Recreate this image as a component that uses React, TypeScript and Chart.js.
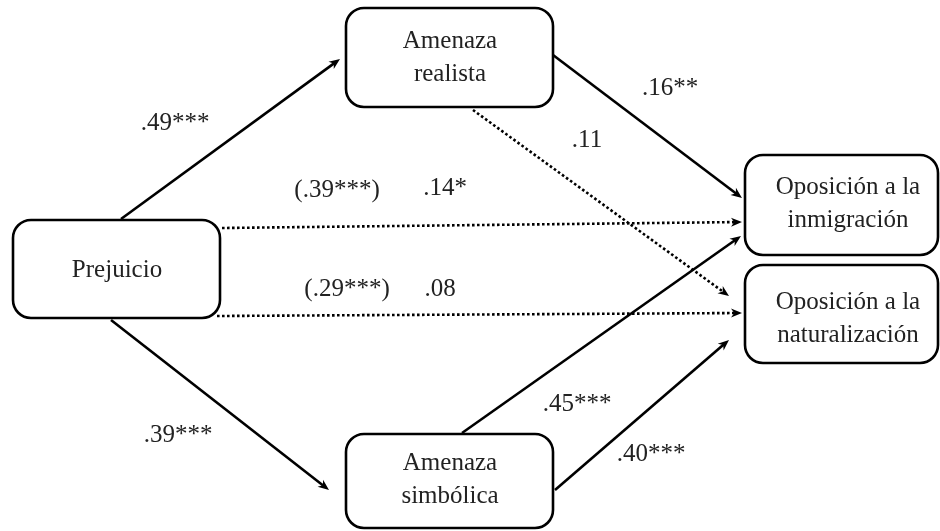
import React, { useEffect, useRef } from "react";
import { Chart, registerables } from "chart.js";

Chart.register(...registerables);

// ---- data ----
const nodeLabels: string[][] = [
  ["Prejuicio"],
  ["Amenaza", "realista"],
  ["Amenaza", "simbólica"],
  ["Oposición a la", "inmigración"],
  ["Oposición a la", "naturalización"],
];
// paths: from -> to, solid (significant) or dotted
const pathFrom = [0, 0, 1, 1, 0, 0, 2, 2];
const pathTo = [1, 2, 3, 4, 3, 4, 3, 4];
const pathSolid = [true, true, true, false, false, false, true, true];
// coefficient labels
const coefficientLabels = [
  ".49***",
  ".39***",
  ".16**",
  ".11",
  "(.39***)",
  ".14*",
  "(.29***)",
  ".08",
  ".45***",
  ".40***",
];

// ---- layout (diagram coordinates, same units as the scales) ----
const nodeBoxes = [
  [13, 220, 220, 318],
  [346, 8, 553, 107],
  [346, 434, 553, 528],
  [745, 155, 938, 255],
  [745, 265, 938, 363],
];
const nodeTextX = [117, 450, 450, 848, 848];
const nodeTextY = [270, 58, 480, 204, 319];
const pathStart = [
  [121, 219],
  [111, 320],
  [553, 55],
  [473, 110],
  [222, 228],
  [217, 316],
  [462, 433],
  [555, 490],
];
const pathEnd = [
  [340, 59],
  [329, 490],
  [742, 198],
  [729, 296],
  [742, 222],
  [742, 313],
  [741, 236],
  [729, 340],
];
const labelPos = [
  [175, 123],
  [178, 435],
  [670, 88],
  [587, 140],
  [337, 190],
  [445, 188],
  [347, 289],
  [440, 289],
  [577, 404],
  [651, 454],
];

const FONT = '25px "Liberation Serif", "DejaVu Serif", serif';
const TEXT_COLOR = "#222";

function shortened(i: number) {
  const [x0, y0] = pathStart[i];
  const [x1, y1] = pathEnd[i];
  const len = Math.hypot(x1 - x0, y1 - y0);
  const cut = 7;
  return [
    { x: x0, y: y0 },
    { x: x1 - ((x1 - x0) / len) * cut, y: y1 - ((y1 - y0) / len) * cut },
  ];
}

const diagramPlugin = {
  id: "pathDiagram",
  afterDatasetsDraw(chart: any) {
    const { ctx, scales } = chart;
    const sx = scales.x;
    const sy = scales.y;
    const px = (v: number) => sx.getPixelForValue(v);
    const py = (v: number) => sy.getPixelForValue(v);
    ctx.save();

    // arrowheads
    ctx.fillStyle = "#000";
    for (let i = 0; i < pathStart.length; i++) {
      const x0 = px(pathStart[i][0]);
      const y0 = py(pathStart[i][1]);
      const x1 = px(pathEnd[i][0]);
      const y1 = py(pathEnd[i][1]);
      const a = Math.atan2(y1 - y0, x1 - x0);
      const L = 11;
      const W = 4.5;
      ctx.beginPath();
      ctx.moveTo(x1, y1);
      ctx.lineTo(
        x1 - L * Math.cos(a) + W * Math.sin(a),
        y1 - L * Math.sin(a) - W * Math.cos(a)
      );
      ctx.lineTo(x1 - L * 0.7 * Math.cos(a), y1 - L * 0.7 * Math.sin(a));
      ctx.lineTo(
        x1 - L * Math.cos(a) - W * Math.sin(a),
        y1 - L * Math.sin(a) + W * Math.cos(a)
      );
      ctx.closePath();
      ctx.fill();
    }

    // node boxes
    ctx.lineWidth = 2.6;
    ctx.strokeStyle = "#000";
    for (let i = 0; i < nodeBoxes.length; i++) {
      const [l, t, r, b] = nodeBoxes[i];
      const x = px(l);
      const y = py(t);
      const w = px(r) - x;
      const h = py(b) - y;
      ctx.beginPath();
      (ctx as any).roundRect(x, y, w, h, 18);
      ctx.stroke();
    }

    // node texts
    ctx.font = FONT;
    ctx.fillStyle = TEXT_COLOR;
    ctx.textAlign = "center";
    ctx.textBaseline = "middle";
    for (let i = 0; i < nodeLabels.length; i++) {
      const lines = nodeLabels[i];
      const lh = 33;
      const cy = py(nodeTextY[i]);
      const cx = px(nodeTextX[i]);
      lines.forEach((ln, k) => {
        ctx.fillText(ln, cx, cy + (k - (lines.length - 1) / 2) * lh);
      });
    }

    // coefficient labels
    for (let i = 0; i < coefficientLabels.length; i++) {
      ctx.fillText(coefficientLabels[i], px(labelPos[i][0]), py(labelPos[i][1]));
    }
    ctx.restore();
  },
};

export default function App() {
  const ref = useRef<HTMLCanvasElement | null>(null);
  useEffect(() => {
    if (!ref.current) return;
    const datasets = pathStart.map((_, i) => ({
      label: `${nodeLabels[pathFrom[i]].join(" ")} → ${nodeLabels[pathTo[i]].join(" ")}`,
      data: shortened(i),
      showLine: true,
      borderColor: "#000",
      borderWidth: 2.6,
      borderDash: pathSolid[i] ? [] : [2.6, 2.4],
      pointRadius: 0,
      fill: false,
    }));
    const chart = new Chart(ref.current, {
      type: "scatter",
      data: { datasets },
      options: {
        animation: false,
        responsive: true,
        maintainAspectRatio: false,
        events: [],
        layout: { padding: 0 },
        plugins: { legend: { display: false }, tooltip: { enabled: false } },
        scales: {
          x: { type: "linear", min: 0, max: 940, display: false },
          y: { type: "linear", min: 0, max: 531, reverse: true, display: false },
        },
      },
      plugins: [diagramPlugin],
    } as any);
    return () => chart.destroy();
  }, []);
  return (
    <div
      style={{
        position: "fixed",
        left: 0,
        top: 0,
        width: 940,
        height: 531,
        background: "#fff",
      }}
    >
      <canvas ref={ref} />
    </div>
  );
}
